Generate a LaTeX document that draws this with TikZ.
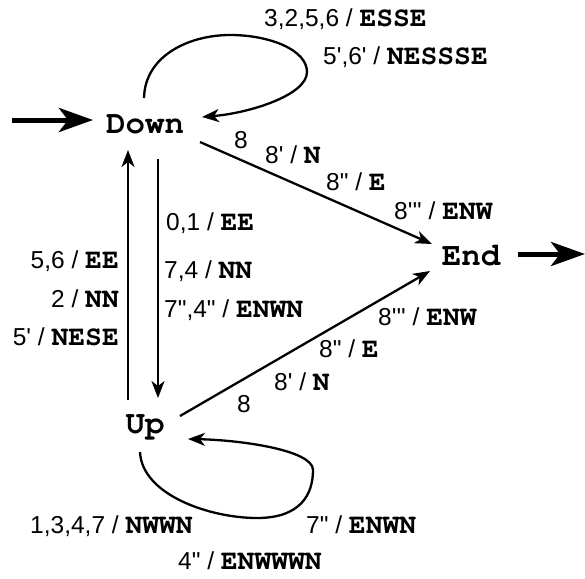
\documentclass[tikz,border=0pt]{standalone}
\usepackage{fontspec}
\usetikzlibrary{arrows.meta}
\newfontfamily\labsans{Liberation Sans}
\newfontfamily\cmono{texgyrecursor-bold.otf}
\newcommand\trl[2]{{\labsans\fontsize{24.5}{28}\selectfont #1 / }{\cmono\fontsize{28}{30}\selectfont #2}}
\newcommand\trn[1]{{\labsans\fontsize{24.5}{28}\selectfont #1}}
\begin{document}
\begin{tikzpicture}[x=1pt,y=-1pt,
  st/.style={font=\cmono\fontsize{32.5}{36}\selectfont, inner sep=0pt, anchor=base},
  lab/.style={inner sep=0pt, anchor=base west},
  labr/.style={inner sep=0pt, anchor=base east},
  trans/.style={line width=2.3pt, -{Stealth[length=17pt,width=13pt,inset=5pt]}},
  bigarr/.style={line width=5pt, -{Stealth[length=34pt,width=24pt,inset=9pt]}}]
\useasboundingbox (0,0) rectangle (585,578);

% states
\node[st] (down) at (145,133) {Down};
\node[st] (end) at (471,265) {End};
\node[st] (up) at (145,433) {Up};

% initial / final
\coordinate (init) at (12,120);
\coordinate (fin) at (585,254);
\draw[bigarr] (init) -- ([shift={(-52,-13)}]down.base);
\draw[bigarr] ([shift={(47,-11)}]end.base) -- (fin);

% Down self-loop
\draw[trans] ([shift={(-1,-35)}]down.base)
  .. controls (145,55) and (190,35) .. (230,35)
  .. controls (270,35) and (307,50) .. (307,72)
  .. controls (307,95) and (250,113) .. ([shift={(57,-16)}]down.base);

% Up self-loop
\draw[trans] ([shift={(-5,19)}]up.base)
  .. controls (142,495) and (210,518) .. (257,518)
  .. controls (300,518) and (313,495) .. (313,470)
  .. controls (313,450) and (240,440) .. ([shift={(43,6)}]up.base);

% Down -> End, Up -> End
\draw[trans] ([shift={(55,9)}]down.base) -- ([shift={(-39,-21)}]end.base);
\draw[trans] ([shift={(35,-17)}]up.base) -- ([shift={(-41,6)}]end.base);

% Down <-> Up
\draw[trans] ([shift={(-17,-33)}]up.base) -- ([shift={(-17,17)}]down.base);
\draw[trans] ([shift={(13,26)}]down.base) -- ([shift={(13,-35)}]up.base);

% labels: Down loop
\node[lab] (l1) at (264,27) {\trl{3,2,5,6}{ESSE}};
\node[lab] (l2) at (323,64) {\trl{5',6'}{NESSSE}};
% Down -> End
\node[lab] (l3) at (234,148) {\trn{8}};
\node[lab] (l4) at (265,163) {\trl{8'}{N}};
\node[lab] (l5) at (326,190) {\trl{8"}{E}};
\node[lab] (l6) at (394,219) {\trl{8'''}{ENW}};
% Down -> Up
\node[lab] (l7) at (166,230) {\trl{0,1}{EE}};
\node[lab] (l8) at (164,278) {\trl{7,4}{NN}};
\node[lab] (l9) at (164,317) {\trl{7",4"}{ENWN}};
% Up -> Down
\node[labr] (l10) at (119,268) {\trl{5,6}{EE}};
\node[labr] (l11) at (119,307) {\trl{2}{NN}};
\node[labr] (l12) at (119,345) {\trl{5'}{NESE}};
% Up -> End
\node[lab] (l13) at (378,325) {\trl{8'''}{ENW}};
\node[lab] (l14) at (319,357) {\trl{8"}{E}};
\node[lab] (l15) at (274,390) {\trl{8'}{N}};
\node[lab] (l16) at (237,412) {\trn{8}};
% Up loop
\node[lab] (l17) at (30,533) {\trl{1,3,4,7}{NWWN}};
\node[lab] (l18) at (306,533) {\trl{7"}{ENWN}};
\node[lab] (l19) at (178,569) {\trl{4"}{ENWWWN}};
\end{tikzpicture}
\end{document}
